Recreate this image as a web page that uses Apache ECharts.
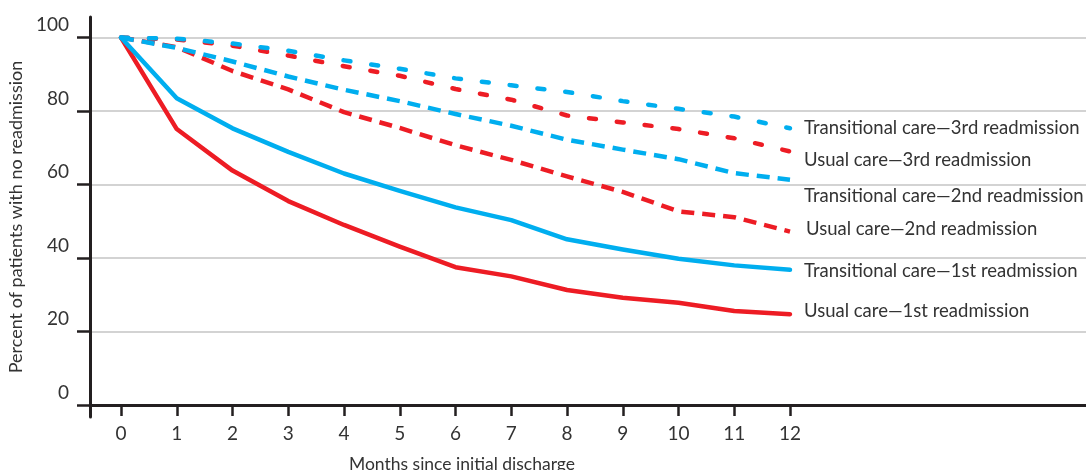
<!DOCTYPE html>
<html>
<head>
<meta charset="utf-8">
<script src="https://cdn.jsdelivr.net/npm/echarts@6/dist/echarts.min.js"></script>
<style>
  html, body { margin: 0; padding: 0; background: #fff; }
  #chart { width: 1086px; height: 470px; }
</style>
</head>
<body>
<div id="chart"></div>
<script>
// ---- Data ----
const months = [0, 1, 2, 3, 4, 5, 6, 7, 8, 9, 10, 11, 12];
const yTicks = [0, 20, 40, 60, 80, 100];

const usual1st        = [100, 75.1, 63.8, 55.5, 49.0, 43.1, 37.5, 35.0, 31.3, 29.2, 27.8, 25.6, 24.7];
const transitional1st = [100, 83.5, 75.3, 68.9, 63.0, 58.3, 53.8, 50.3, 45.1, 42.3, 39.8, 38.0, 36.8];
const usual2nd        = [100, 97.4, 90.9, 85.9, 79.7, 75.4, 70.7, 66.7, 62.2, 58.0, 52.7, 51.1, 47.2];
const transitional2nd = [100, 97.2, 93.5, 89.4, 85.8, 82.7, 79.2, 76.0, 72.2, 69.5, 66.9, 63.1, 61.3];
const usual3rd        = [100, 99.5, 97.8, 95.1, 92.2, 89.6, 86.0, 83.1, 78.8, 76.9, 75.1, 72.6, 69.0];
const transitional3rd = [100, 99.7, 98.4, 96.4, 93.8, 91.5, 88.9, 87.0, 85.2, 82.7, 80.6, 78.5, 75.3];

const seriesNames = {
  u1: 'Usual care\u20141st readmission',
  t1: 'Transitional care\u20141st readmission',
  u2: 'Usual care\u20142nd readmission',
  t2: 'Transitional care\u20142nd readmission',
  u3: 'Usual care\u20143rd readmission',
  t3: 'Transitional care\u20143rd readmission'
};

// ---- Styles ----
const RED = '#ED1C24';
const BLUE = '#00AEEF';
const TEXT = '#333333';
const AXIS = '#231F20';
const FONT = "Lato, 'Liberation Sans', Arial, sans-serif";
const DASHED = [13, 8];
const DOTTED = [7, 21];

function pairs(vals) { return months.map((m, i) => [m, vals[i]]); }

function mk(name, vals, color, dash, offset, cap) {
  return {
    name: name,
    type: 'line',
    data: pairs(vals),
    symbol: 'none',
    lineStyle: { color: color, width: 4.5, type: dash, cap: cap || 'round', join: 'round' },
    itemStyle: { color: color },
    endLabel: {
      show: true,
      formatter: '{a}',
      distance: 14,
      offset: offset,
      color: TEXT,
      fontFamily: FONT,
      fontSize: 18.5
    },
    emphasis: { disabled: true },
    silent: true
  };
}

const chart = echarts.init(document.getElementById('chart'), null, { renderer: 'canvas' });
chart.setOption({
  animation: false,
  backgroundColor: '#fff',
  title: {
    text: 'Months since initial discharge',
    left: 457,
    top: 450,
    textAlign: 'center',
    textStyle: { fontFamily: FONT, fontSize: 17.5, fontWeight: 'normal', color: TEXT }
  },
  grid: { left: 90, right: 0, top: 17, height: 400, outerBoundsMode: 'none', containLabel: false },
  xAxis: {
    type: 'value',
    min: -31 / 55.75,
    max: 965 / 55.75,
    axisLine: { onZero: true, lineStyle: { color: AXIS, width: 3 } },
    axisTick: { customValues: months, length: 11, lineStyle: { color: AXIS, width: 2.5 } },
    axisLabel: { customValues: months, margin: 7, color: TEXT, fontFamily: FONT, fontSize: 19 },
    splitLine: { show: false }
  },
  yAxis: {
    type: 'value',
    min: -3.27,
    max: 105.6,
    name: 'Percent of patients with no readmission',
    nameLocation: 'middle',
    nameGap: 62,
    nameTextStyle: { fontFamily: FONT, fontSize: 18, color: TEXT },
    axisLine: { show: true, onZero: false, lineStyle: { color: AXIS, width: 3 } },
    axisTick: { show: true, customValues: yTicks, length: 13, lineStyle: { color: AXIS, width: 2.5 } },
    axisLabel: { customValues: yTicks, margin: 21, color: TEXT, fontFamily: FONT, fontSize: 19,
                 verticalAlign: 'bottom', padding: [0, 0, 3, 0] },
    splitLine: { show: true, lineStyle: { color: '#C4C4C4', width: 1.5 } }
  },
  series: [
    mk(seriesNames.u1, usual1st, RED, 'solid', [0, -3]),
    mk(seriesNames.u2, usual2nd, RED, DASHED, [2, -3], 'butt'),
    mk(seriesNames.u3, usual3rd, RED, DOTTED, [0, 9]),
    mk(seriesNames.t1, transitional1st, BLUE, 'solid', [0, 1]),
    mk(seriesNames.t2, transitional2nd, BLUE, DASHED, [0, 16], 'butt'),
    mk(seriesNames.t3, transitional3rd, BLUE, DOTTED, [0, 0])
  ]
});
</script>
</body>
</html>
